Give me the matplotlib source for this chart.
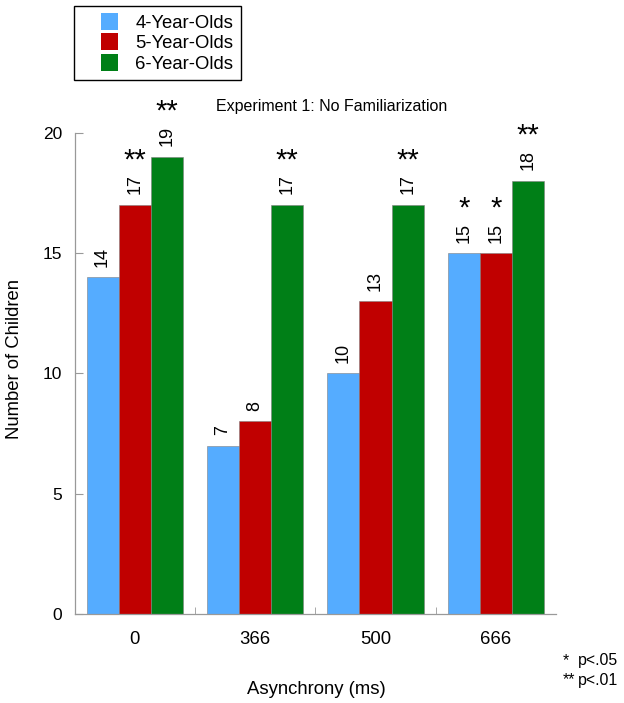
import matplotlib
matplotlib.use("Agg")
import matplotlib.pyplot as plt
import numpy as np
from matplotlib.patches import Patch, Rectangle
from matplotlib.legend_handler import HandlerPatch

plt.rcParams["font.family"] = ["Liberation Sans", "DejaVu Sans"]

GROUPS = ["0", "366", "500", "666"]
AGES = ["4-Year-Olds", "5-Year-Olds", "6-Year-Olds"]
COLORS = ["#55acff", "#c00000", "#007f17"]

age4 = [14, 7, 10, 15]
age5 = [17, 8, 13, 15]
age6 = [19, 17, 17, 18]
stars4 = ["", "", "", "*"]
stars5 = ["**", "", "", "*"]
stars6 = ["**", "**", "**", "**"]

series = [age4, age5, age6]
stars = [stars4, stars5, stars6]

W, H, DPI = 624, 703, 100
fig = plt.figure(figsize=(W / DPI, H / DPI), dpi=DPI)
ax = fig.add_axes([74.5 / W, 1 - 614 / H, (556 - 74.5) / W, (614 - 132.7) / H])

bw = 0.267
x0 = np.arange(len(GROUPS)) + 0.1
for i, (vals, col, st) in enumerate(zip(series, COLORS, stars)):
    xs = x0 + i * bw
    ax.bar(xs, vals, width=bw, align="edge", color=col, edgecolor="#808080", linewidth=0.4)
    for x, v, s in zip(xs, vals, st):
        ax.annotate(str(v), (x + bw / 2, v), xytext=(0, 7.5), textcoords="offset points",
                    rotation=90, ha="center", va="bottom", fontsize=13, clip_on=False)
        if s:
            # stars sit just above the count label
            ax.annotate(s, (x + bw / 2, v), xytext=(0, 26.5), textcoords="offset points",
                        ha="center", va="baseline", fontsize=21, clip_on=False)

ax.set_xlim(0, 4)
ax.set_ylim(0, 20)
ax.set_xticks(np.arange(4) + 0.5)
ax.set_xticklabels(GROUPS, fontsize=13.3)
ax.set_xticks([1, 2, 3], minor=True)
ax.tick_params(axis="x", which="major", length=0, pad=12)
ax.tick_params(axis="x", which="minor", direction="in", length=5, color="#999999")
ax.set_yticks([0, 5, 10, 15, 20])
ax.tick_params(axis="y", direction="in", length=6, color="#999999", labelsize=12.5, pad=9)

for side in ["top", "right"]:
    ax.spines[side].set_visible(False)
for side in ["left", "bottom"]:
    ax.spines[side].set_color("#999999")
    ax.spines[side].set_linewidth(0.9)

fig.text(15 / W, 1 - 359 / H, "Number of Children", rotation=90, ha="center", va="center", fontsize=13.3)
fig.text(316 / W, 1 - 690 / H, "Asynchrony (ms)", ha="center", va="center", fontsize=13.3)
fig.text(332 / W, 1 - 106 / H, "Experiment 1: No Familiarization", ha="center", va="center", fontsize=11.5)

# significance key
fig.text(563 / W, 1 - 661 / H, "*", ha="left", va="center", fontsize=11.4)
fig.text(563 / W, 1 - 680 / H, "**", ha="left", va="center", fontsize=11.4)
fig.text(578 / W, 1 - 661 / H, "p<.05", ha="left", va="center", fontsize=11.4)
fig.text(578 / W, 1 - 680 / H, "p<.01", ha="left", va="center", fontsize=11.4)


def square_handle(legend, orig_handle, xdescent, ydescent, width, height, fontsize):
    sq = 0.92 * fontsize
    return Rectangle((width - sq - xdescent, (height - sq) / 2 - ydescent), sq, sq)


handles = [Patch(facecolor=c, edgecolor="none") for c in COLORS]
leg = fig.legend(handles, AGES, loc="upper left", bbox_to_anchor=(74 / W, 1 - 6 / H),
                 bbox_transform=fig.transFigure, borderaxespad=0, fontsize=13.3,
                 handlelength=1.95, handleheight=0.92, handletextpad=0.95,
                 labelspacing=0.12, borderpad=0.42, fancybox=False, framealpha=1,
                 handler_map={Patch: HandlerPatch(patch_func=square_handle)})
leg.get_frame().set_edgecolor("black")
leg.get_frame().set_linewidth(1.0)

fig.savefig("out.png", dpi=DPI)
